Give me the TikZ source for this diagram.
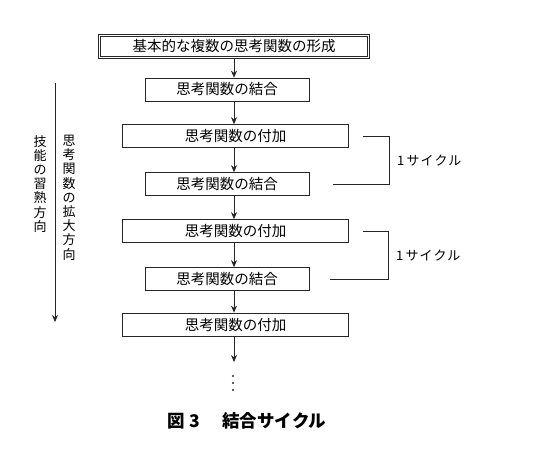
\documentclass[tikz,border=0pt]{standalone}
\usepackage{fontspec}
\usepackage{tikz}
\usetikzlibrary{arrows.meta,positioning}
\newfontfamily\jpfont{Noto Sans CJK JP}
\newfontfamily\jpwide{Noto Sans CJK JP}[LetterSpace=9]
\tikzset{
  stagebox/.style={draw=black!85, line width=0.7pt, minimum height=23pt, inner sep=0pt,
                   font=\jpfont\fontsize{14.5}{15}\selectfont},
  joinbox/.style={stagebox, minimum width=164pt},
  addbox/.style={stagebox, minimum width=226pt},
  topbox/.style={stagebox, double, double distance=1.6pt, minimum width=269pt, minimum height=22pt},
  flow/.style={-{Stealth[length=7pt,width=6pt]}, line width=0.7pt, draw=black!85},
  bracket/.style={line width=0.7pt, draw=black!85},
  sidetext/.style={anchor=north, align=center, inner sep=0pt,
                   font=\jpfont\fontsize{13}{14.2}\selectfont},
  cyclelabel/.style={anchor=west, inner sep=0pt, font=\jpwide\fontsize{13}{14}\selectfont}
}

\begin{document}
\begin{tikzpicture}[x=1pt, y=-1pt]
  \useasboundingbox (0,0) rectangle (535,471);

  % main column
  \node[topbox] (base) at (234,46.5) {基本的な複数の思考関数の形成};
  \node[joinbox] (join1) at (227,89.5) {思考関数の結合};
  \node[addbox] (add1) at (235.5,136) {思考関数の付加};
  \node[joinbox] (join2) at (227,184) {思考関数の結合};
  \node[addbox] (add2) at (235.5,231) {思考関数の付加};
  \node[joinbox] (join3) at (227,279) {思考関数の結合};
  \node[addbox] (add3) at (235.5,324.5) {思考関数の付加};
  \coordinate (more) at (234,362);

  \draw[flow] (base.south -| more) -- (join1.north -| more);
  \draw[flow] (join1.south -| more) -- (add1.north -| more);
  \draw[flow] (add1.south -| more) -- (join2.north -| more);
  \draw[flow] (join2.south -| more) -- (add2.north -| more);
  \draw[flow] (add2.south -| more) -- (join3.north -| more);
  \draw[flow] (join3.south -| more) -- (add3.north -| more);
  \draw[flow] (add3.south -| more) -- (more);
  \foreach \y in {376,383,390}
    \fill[black!85] (233,\y) circle (1.2pt);

  % cycle brackets
  \coordinate (c1top) at (363,136);
  \coordinate (c1bot) at (333,184);
  \coordinate (c2top) at (363,231);
  \coordinate (c2bot) at (330,279);
  \draw[bracket] (c1top) -- ++(26,0) |- (c1bot);
  \draw[bracket] (c2top) -- ++(25,0) |- (c2bot);
  \node[cyclelabel] (cyc1) at (397,161) {1\,サイクル};
  \node[cyclelabel] (cyc2) at (396,256) {1\,サイクル};

  % direction arrow at the left
  \coordinate (dirtop) at (55,83);
  \coordinate (dirend) at (55,322);
  \draw[flow] (dirtop) -- (dirend);
  \node[sidetext] (skill) at (40,135) {技\\能\\の\\習\\熟\\方\\向};
  \node[sidetext] (expand) at (69,135) {思\\考\\関\\数\\の\\拡\\大\\方\\向};

  % caption
  \node[anchor=west, inner sep=0pt, font=\jpfont\bfseries\fontsize{17.5}{18}\selectfont]
    (caption) at (167,421) {図\hspace{5pt}3\hspace{22pt}結合サイクル};
\end{tikzpicture}
\end{document}
